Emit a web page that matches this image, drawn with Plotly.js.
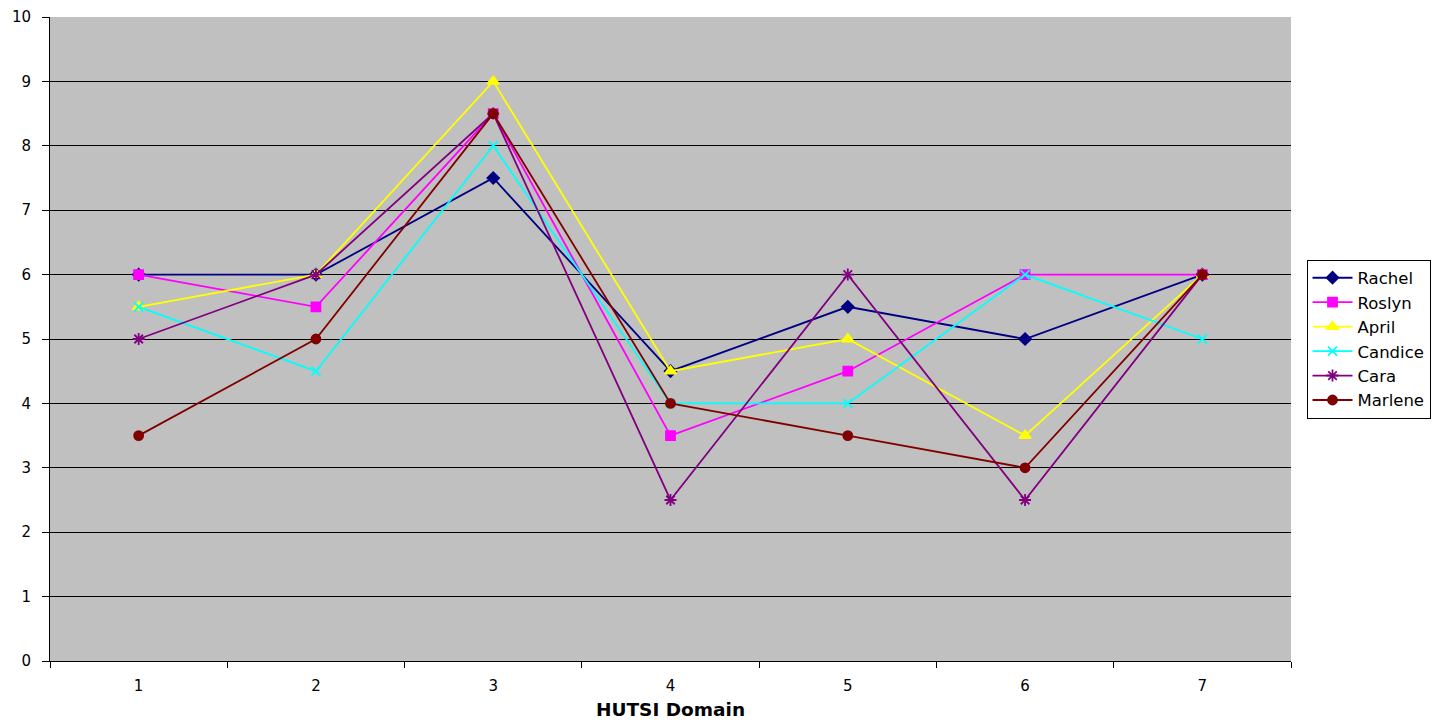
<!DOCTYPE html>
<html>
<head>
<meta charset="utf-8">
<script src="https://cdn.plot.ly/plotly-3.0.1.min.js"></script>
<style>
  html, body { margin: 0; padding: 0; background: #ffffff; }
  #chart { width: 1443px; height: 725px; }
</style>
</head>
<body>
<div id="chart"></div>
<script>
// HUTSI domain scores per participant
const domains = ['1', '2', '3', '4', '5', '6', '7'];
const rachel  = [6, 6, 7.5, 4.5, 5.5, 5, 6];
const roslyn  = [6, 5.5, 8.5, 3.5, 4.5, 6, 6];
const april   = [5.5, 6, 9, 4.5, 5, 3.5, 6];
const candice = [5.5, 4.5, 8, 4, 4, 6, 5];
const cara    = [5, 6, 8.5, 2.5, 6, 2.5, 6];
const marlene = [3.5, 5, 8.5, 4, 3.5, 3, 6];

const series = [
  { name: 'Rachel',  y: rachel,  color: '#000080', symbol: 'diamond',       size: 9 },
  { name: 'Roslyn',  y: roslyn,  color: '#FF00FF', symbol: 'square',        size: 9 },
  { name: 'April',   y: april,   color: '#FFFF00', symbol: 'triangle-up',   size: 10 },
  { name: 'Candice', y: candice, color: '#00FFFF', symbol: 'x-thin-open',   size: 9 },
  { name: 'Cara',    y: cara,    color: '#800080', symbol: 'asterisk-open', size: 10 },
  { name: 'Marlene', y: marlene, color: '#800000', symbol: 'circle',        size: 9 }
];

const traces = series.map(s => ({
  type: 'scatter',
  mode: 'lines+markers',
  name: s.name,
  x: domains,
  y: s.y,
  line: { color: s.color, width: 1.8 },
  marker: { symbol: s.symbol, size: s.size, color: s.color,
            line: { color: s.color, width: 1.8 } }
}));

const layout = {
  width: 1443,
  height: 725,
  margin: { l: 50, r: 150, t: 17, b: 64 },
  paper_bgcolor: '#ffffff',
  plot_bgcolor: '#C0C0C0',
  font: { family: 'DejaVu Sans, Verdana, sans-serif', size: 15, color: '#000000' },
  showlegend: true,
  legend: {
    x: 1.0125, xanchor: 'left',
    y: 0.5, yanchor: 'middle',
    bgcolor: '#ffffff',
    bordercolor: '#000000',
    borderwidth: 1,
    font: { size: 16.5 },
    itemwidth: 40,
    tracegroupgap: 0
  },
  xaxis: {
    type: 'category',
    range: [-0.5, 6.5],
    showgrid: false,
    showline: true,
    linecolor: '#000000',
    linewidth: 1,
    ticks: 'outside',
    tickson: 'boundaries',
    ticklen: 6,
    tickcolor: '#000000',
    ticklabelstandoff: 11,
    zeroline: false,
    title: { text: 'HUTSI Domain', font: { size: 18.5, weight: 'bold' }, standoff: 9 }
  },
  yaxis: {
    range: [0, 10],
    dtick: 1,
    showgrid: true,
    gridcolor: '#000000',
    gridwidth: 1,
    showline: true,
    linecolor: '#000000',
    linewidth: 1,
    ticks: 'outside',
    ticklen: 7,
    tickcolor: '#000000',
    ticklabelstandoff: 8,
    zeroline: false
  }
};

Plotly.newPlot('chart', traces, layout, { displayModeBar: false, staticPlot: true });
</script>
</body>
</html>
